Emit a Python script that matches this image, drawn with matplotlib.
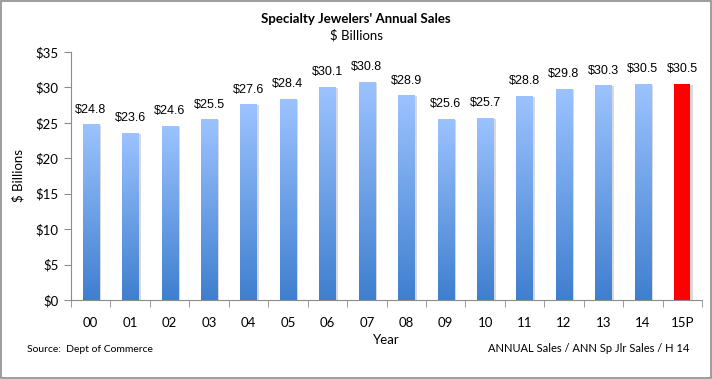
import matplotlib.pyplot as plt
import numpy as np
from matplotlib.colors import LinearSegmentedColormap
from matplotlib.patches import Rectangle

years = ['00', '01', '02', '03', '04', '05', '06', '07', '08', '09', '10',
         '11', '12', '13', '14', '15P']
sales = [24.8, 23.6, 24.6, 25.5, 27.6, 28.4, 30.1, 30.8, 28.9, 25.6, 25.7,
         28.8, 29.8, 30.3, 30.5, 30.5]
projected = [False] * 15 + [True]

fig = plt.figure(figsize=(7.12, 3.79), dpi=100)
ax = fig.add_axes([71 / 712, 1 - 300 / 379, (702 - 71) / 712, (300 - 52) / 379])

# figure border
fig.patches.append(Rectangle((0.0015, 0.002), 0.997, 0.995, transform=fig.transFigure,
                             fill=False, edgecolor='#8c8c8c', linewidth=1.2))

cmap = LinearSegmentedColormap.from_list('blues', ['#3f7fcf', '#9cc3ff'])
grad = np.linspace(0, 1, 256).reshape(-1, 1)
width = 0.41

x = np.arange(len(years))
for xi, val, proj in zip(x, sales, projected):
    # soft shadow
    ax.add_patch(Rectangle((xi - width / 2 + 0.06, 0), width, val - 0.15,
                           facecolor='#d9d9d9', edgecolor='none', zorder=1))
    if proj:
        ax.bar(xi, val, width, color='#ff0000', zorder=2)
    else:
        bar = ax.bar(xi, val, width, color='none', zorder=2)[0]
        im = ax.imshow(grad, cmap=cmap, aspect='auto', origin='lower',
                       extent=[xi - width / 2, xi + width / 2, 0, val], zorder=2)
        im.set_clip_path(bar)
    ax.text(xi, val + 1.2, f'${val:.1f}', ha='center', va='bottom',
            fontsize=9, family='Liberation Sans')

ax.set_xlim(-0.5, len(years) - 0.5)
ax.set_ylim(0, 35)
ax.set_yticks(range(0, 36, 5))
ax.set_yticklabels([f'${v}' for v in range(0, 36, 5)], family='Lato', fontsize=9.5)
ax.set_xticks(x)
ax.set_xticklabels(years, family='Lato', fontsize=9.5)
ax.set_xticks(np.arange(-0.5, len(years)), minor=True)
ax.tick_params(axis='x', which='major', length=0, pad=12)
ax.tick_params(axis='x', which='minor', length=5, color='#8c8c8c')
ax.tick_params(axis='y', length=5, color='#8c8c8c', pad=4)
for s in ['top', 'right']:
    ax.spines[s].set_visible(False)
for s in ['left', 'bottom']:
    ax.spines[s].set_color('#8c8c8c')

ax.set_ylabel('$ Billions', family='Lato', fontsize=9.5, labelpad=8)
fig.text(0.5, 1 - 19 / 379, "Specialty Jewelers' Annual Sales", ha='center', va='center',
         family='Lato', fontweight='bold', fontsize=9.5)
fig.text(0.5, 1 - 35 / 379, '$ Billions', ha='center', va='center', family='Lato', fontsize=9.5)
fig.text(386 / 712, 1 - 340 / 379, 'Year', ha='center', va='center', family='Lato', fontsize=9.5)
fig.text(27 / 712, 1 - 349 / 379, 'Source:  Dept of Commerce', ha='left', va='center',
         family='Lato', fontsize=7.5)
fig.text(689 / 712, 1 - 348 / 379, 'ANNUAL Sales / ANN Sp Jlr Sales / H 14', ha='right',
         va='center', family='Lato', fontsize=8)

fig.savefig('out.png', dpi=100)
